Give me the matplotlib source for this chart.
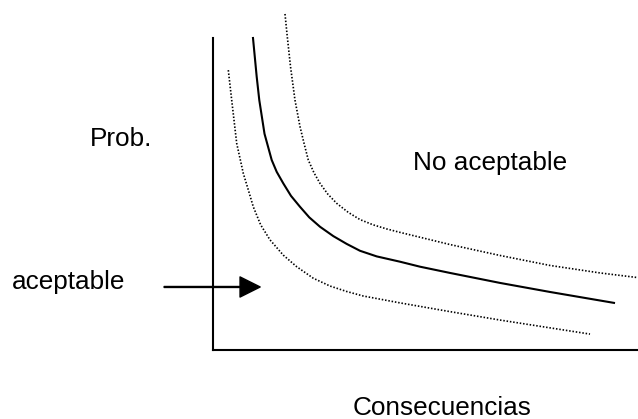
import numpy as np
import matplotlib.pyplot as plt

# Curvas de aceptabilidad del riesgo (unidades 0-100)
limite_x = [9.41, 10.28, 10.89, 12.12, 13.81, 14.99, 16.54, 18.35, 20.47, 22.66, 25.18,
            28.31, 31.46, 34.59, 38.52, 44.0, 48.71, 55.76, 67.53, 79.29, 94.35]
limite_y = [100, 87.6, 80.1, 69.3, 60.9, 57.1, 53.4, 49.4, 45.9, 42.5, 39.5,
            36.5, 34.0, 31.8, 30.0, 28.3, 26.7, 24.7, 21.5, 18.6, 15.1]

sup_x = [16.94, 17.48, 18.24, 19.29, 20.47, 21.41, 22.42, 23.76, 25.18, 26.99, 29.11,
         31.84, 34.59, 37.72, 40.87, 44.0, 55.76, 67.53, 79.29, 91.06, 100]
sup_y = [107.7, 100.4, 90.8, 80.1, 71.6, 66.3, 60.9, 56.8, 53.4, 50.0, 47.0,
         44.1, 41.8, 40.1, 38.8, 37.7, 33.8, 30.3, 27.1, 24.7, 23.2]

inf_x = [3.6, 4.4, 5.58, 7.13, 8.31, 9.48, 11.22, 13.41, 16.54, 19.69, 23.6,
         27.53, 31.46, 35.36, 44.0, 55.76, 67.53, 79.29, 88.71]
inf_y = [89.7, 80.1, 66.2, 56.6, 51.3, 45.9, 40.1, 35.3, 30.4, 26.7, 23.0,
         20.5, 18.75, 17.3, 15.1, 12.3, 9.6, 7.1, 5.1]

# flecha hacia la zona aceptable
flecha_inicio = (-11.5, 20.2)
flecha_fin = (11.1, 20.2)

plt.rcParams['font.family'] = ['Liberation Sans', 'DejaVu Sans']

fig = plt.figure(figsize=(6.38, 4.19), dpi=100)
ax = fig.add_axes([213 / 638, 69 / 419, 425 / 638, 312 / 419])
ax.set_xlim(0, 100)
ax.set_ylim(0, 100)
ax.set_xticks([])
ax.set_yticks([])
ax.spines['top'].set_visible(False)
ax.spines['right'].set_visible(False)
ax.spines['left'].set_linewidth(1.5)
ax.spines['bottom'].set_linewidth(1.5)

ax.plot(limite_x, limite_y, color='black', lw=1.5, clip_on=False,
        solid_joinstyle='round')
ax.plot(sup_x, sup_y, color='black', lw=1.2, linestyle=(0, (0.9, 1.1)), clip_on=False)
ax.plot(inf_x, inf_y, color='black', lw=1.2, linestyle=(0, (0.9, 1.1)), clip_on=False)

ax.annotate('', xy=flecha_fin, xytext=flecha_inicio, annotation_clip=False,
            arrowprops=dict(width=0.7, headwidth=14.5, headlength=14.5,
                            shrink=0, color='black'))

fs = 18.8
fig.text(90 / 638, 1 - 146 / 419, 'Prob.', fontsize=fs, va='baseline')
fig.text(413 / 638, 1 - 170 / 419, 'No aceptable', fontsize=fs, va='baseline')
fig.text(12 / 638, 1 - 289 / 419, 'aceptable', fontsize=fs, va='baseline')
fig.text(353 / 638, 1 - 415 / 419, 'Consecuencias', fontsize=fs, va='baseline')

fig.savefig('out.png', dpi=100)
